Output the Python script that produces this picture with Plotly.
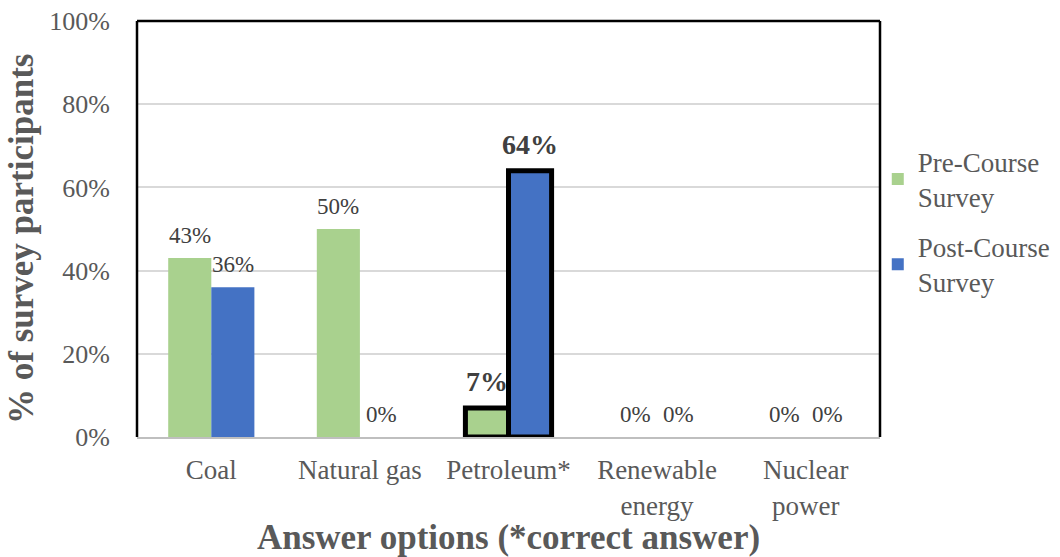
import plotly.graph_objects as go

categories = ["Coal", "Natural gas", "Petroleum*", "Renewable<br>energy", "Nuclear<br>power"]
pre_course = [43, 50, 7, 0, 0]
post_course = [36, 0, 64, 0, 0]
correct_index = 2
y_ticks = [0, 20, 40, 60, 80, 100]
y_tick_text = [f"{t}%" for t in y_ticks]

FONT = "Liberation Serif"
GREY = "#595959"
LABEL = "#404040"

BAR_GAP = 0.42
PLOT_W = 1060 - 137 - 180
BAR_PX = PLOT_W / len(categories) * (1 - BAR_GAP) / 2


def outline(values):
    return [5 if i == correct_index else 0 for i in range(len(values))]


fig = go.Figure()
series = [
    ("Pre-Course<br>Survey", pre_course, "#A9D18E", -1),
    ("Post-Course<br>Survey", post_course, "#4472C4", 1),
]
annotations = []
for name, vals, color, side in series:
    fig.add_trace(go.Bar(
        x=categories, y=vals, name=name, legendgroup=name,
        marker=dict(color=color, line=dict(color="black", width=outline(vals))),
    ))
    # value labels above each bar
    for i, (cat, v) in enumerate(zip(categories, vals)):
        bold = i == correct_index
        annotations.append(dict(
            x=cat, y=v, xref="x", yref="y", showarrow=False,
            text=f"<b>{v}%</b>" if bold else f"{v}%",
            xanchor="center", yanchor="bottom",
            xshift=side * BAR_PX / 2, yshift=9 if bold else 8,
            font=dict(family=FONT, size=28 if bold else 23, color=LABEL),
        ))

# vertical axis title
annotations.append(dict(
    text="<b>% of survey participants</b>", textangle=-90,
    xref="paper", yref="paper", x=0, y=0.5, xanchor="center", yanchor="middle",
    xshift=-116, yshift=-10, showarrow=False,
    font=dict(family=FONT, size=35, color=GREY),
))

fig.update_layout(
    width=1060, height=557,
    margin=dict(l=137, r=180, t=21, b=120, autoexpand=False),
    paper_bgcolor="white", plot_bgcolor="white",
    barmode="group", bargap=BAR_GAP, bargroupgap=0,
    font=dict(family=FONT, color=GREY, size=26),
    showlegend=True,
    legend=dict(x=0.997, y=0.72, xanchor="left", yanchor="top",
                bgcolor="rgba(0,0,0,0)",
                font=dict(family=FONT, size=27, color=GREY),
                tracegroupgap=12, itemwidth=30),
    annotations=annotations,
    xaxis=dict(showline=True, linecolor="#BFBFBF", linewidth=2, automargin=False,
               tickfont=dict(family=FONT, size=27, color=GREY), ticks="",
               ticklabelstandoff=8,
               title=dict(text="<b>Answer options (*correct answer)</b>",
                          font=dict(family=FONT, size=35, color=GREY), standoff=10)),
    yaxis=dict(range=[0, 100], tickmode="array", tickvals=y_ticks, ticktext=y_tick_text,
               showgrid=True, gridcolor="#D9D9D9", gridwidth=1.5, automargin=False,
               tickfont=dict(family=FONT, size=26, color=GREY), zeroline=False,
               showline=False, ticks="", ticklabelstandoff=26),
    shapes=[
        dict(type="line", xref="paper", yref="paper", x0=0, x1=0, y0=0, y1=1,
             line=dict(color="black", width=2.5)),
        dict(type="line", xref="paper", yref="paper", x0=0, x1=1, y0=1, y1=1,
             line=dict(color="black", width=2.5)),
        dict(type="line", xref="paper", yref="paper", x0=1, x1=1, y0=0, y1=1,
             line=dict(color="black", width=2.5)),
    ],
)

fig.write_html("out.html")
